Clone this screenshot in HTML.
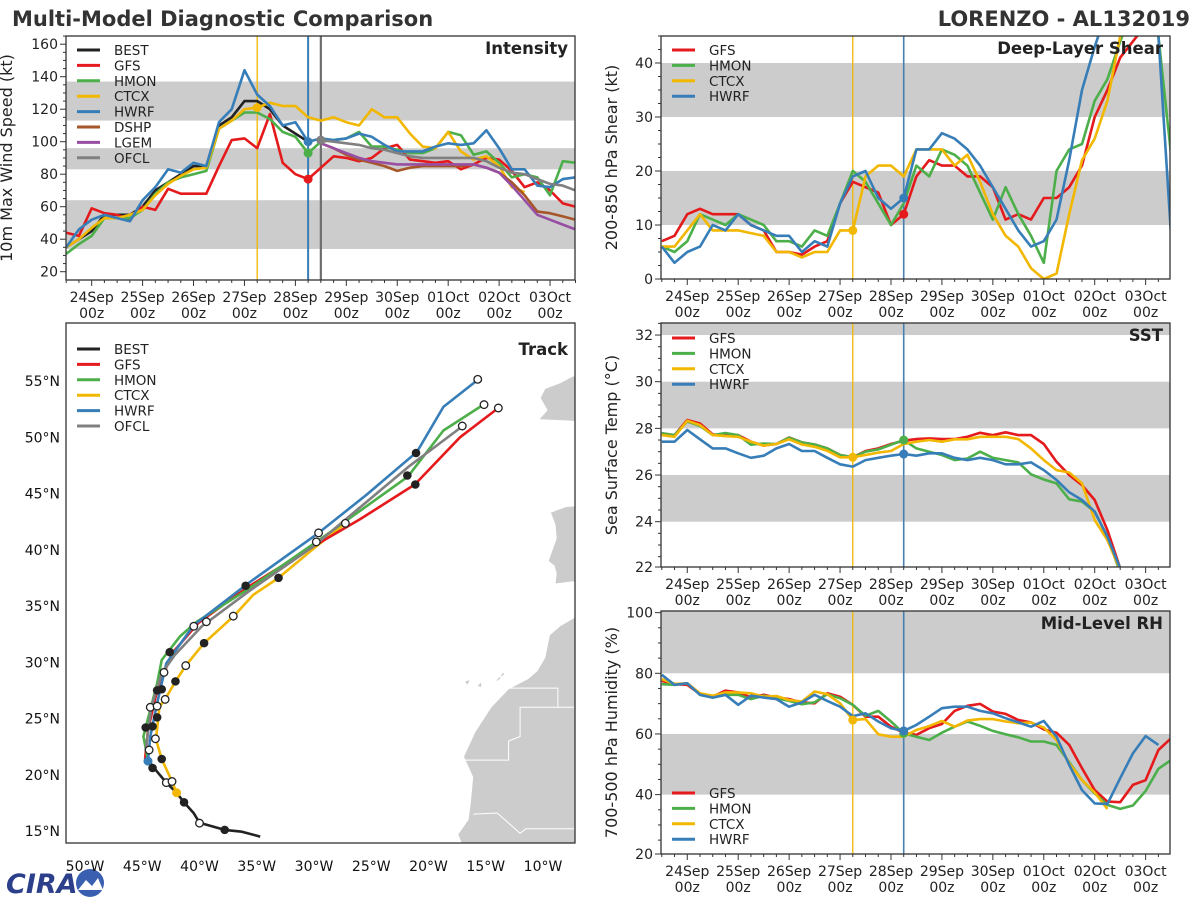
<!DOCTYPE html>
<html><head><meta charset="utf-8"><style>
html,body{margin:0;padding:0;background:#fff;}
svg{display:block;font-family:"DejaVu Sans","Liberation Sans",sans-serif;}
</style></head><body>
<svg id="chart" width="1200" height="900" viewBox="0 0 1200 900" xmlns="http://www.w3.org/2000/svg">
<text x="12" y="26" font-size="21" font-weight="bold" fill="#333">Multi-Model Diagnostic Comparison</text>
<text x="1190" y="26" font-size="21" font-weight="bold" fill="#333" text-anchor="end">LORENZO - AL132019</text>
<g>
<text x="6" y="893" font-size="27" font-weight="bold" font-style="italic" fill="#2b3f8a">CIRA</text>
<circle cx="90" cy="883" r="14" fill="#3a5fb0"/>
<path d="M78 890 L86 880 L92 886 L98 878 L103 890 Z" fill="#ffffff"/>
</g>
</svg>
<script>
// ---------- DATA ----------
const dayLabels = ["24Sep","25Sep","26Sep","27Sep","28Sep","29Sep","30Sep","01Oct","02Oct","03Oct"];
const hourLabel = "00z";
const startHour = -12;
const stepHours = 6;
const lineYellowHour = 78;
const lineBlueHour = 102;
const lineOfclHour = 108;

const intBEST = [35,40,45,55,55,55,60,70,75,80,85,85,110,115,125,125,120,110,105,100];
const intGFS = [44,42,59,56,55,52,60,58,71,68,68,68,85,101,102,96,117,87,80,77,84,91,90,88,90,96,98,89,88,87,88,83,86,90,89,82,72,75,70,62,60];
const intHMON = [31,37,42,53,53,53,58,68,75,78,80,82,108,113,118,118,114,106,103,93,100,101,102,106,97,97,95,93,93,96,106,104,92,94,87,78,80,78,67,88,87];
const intCTCX = [35,40,47,53,53,55,58,67,74,79,83,84,108,113,120,121,124,122,122,115,113,115,112,110,120,115,115,105,97,96,106,94,89,91,85,72,69];
const intHWRF = [35,46,52,55,53,51,64,72,83,81,87,85,112,120,144,129,122,110,112,100,102,101,102,105,103,98,94,94,94,97,99,98,99,107,96,83,83,73,72,77,78];
const guidanceStartIndex = 20;
const intDSHP = [99,96,92,89,87,85,82,84,85,85,85,85,86,84,81,75,67,57,56,54,52];
const intLGEM = [99,96,93,90,88,87,86,86,86,86,86,86,86,84,81,73,64,55,52,49,46];
const intOFCL = [101,100,99,98,96,95,93,91,90,90,90,90,90,88,84,81,80,77,74,73,70];

const shrGFS = [7,8,12,13,12,12,12,10,9,5,5,4.5,6,7,14,18,17,16,10,12,19,22,21,21,19,19,17,11,12,11,15,15,17,21,30,35,41,44,47,50,52];
const shrHMON = [6,5,7,12,11,10,12,11,10,7,7,6,9,8,14,20,18,14,10,14,21,19,24,23,21,16,11,17,12,8,3,20,24,25,33,37,44,50,50,45,23];
const shrCTCX = [6,6,9,12,9,9,9,8.5,8,5,5,4,5,5,9,9,19,21,21,19,24,24,24,21,23,18,12,8,6,2,0,1,12,22,26,33,45,50,50,50,50];
const shrHWRF = [6,3,5,6,10,9,12,10,9,8,8,5,7,6,14,19,20,15,13,15,24,24,27,26,24,21,17,13,9,6,7,11,22,35,43,50,50,50,50,45,8];

const sstGFS = [27.79,27.71,28.36,28.21,27.74,27.71,27.71,27.43,27.26,27.33,27.61,27.40,27.31,27.14,26.86,26.76,27.03,27.14,27.33,27.47,27.54,27.57,27.54,27.54,27.64,27.81,27.71,27.83,27.71,27.71,27.33,26.57,26.0,25.57,24.93,23.64,22.0,20.5];
const sstHMON = [27.79,27.71,28.3,28.1,27.71,27.8,27.71,27.3,27.35,27.33,27.6,27.4,27.31,27.14,26.86,26.76,27.0,27.1,27.3,27.5,27.14,27.0,26.86,26.64,26.71,27.0,26.74,26.64,26.54,26.03,25.81,25.64,24.96,24.86,24.43,23.36,21.8];
const sstCTCX = [27.71,27.64,28.33,28.14,27.71,27.67,27.64,27.43,27.26,27.33,27.53,27.31,27.21,27.04,26.76,26.76,26.86,26.96,27.03,27.33,27.43,27.5,27.43,27.53,27.53,27.64,27.64,27.64,27.54,27.14,26.64,26.21,26.11,25.64,24.07,23.21,21.93];
const sstHWRF = [27.43,27.43,27.93,27.53,27.14,27.14,26.93,26.74,26.83,27.14,27.33,27.03,27.03,26.74,26.46,26.36,26.64,26.74,26.83,26.90,26.83,26.93,26.93,26.74,26.64,26.74,26.64,26.46,26.46,26.54,26.21,25.79,25.26,24.93,24.43,23.36,22.0];

const rhGFS = [77.5,76.4,76.2,73.1,72.3,74.3,73.7,72.1,72.9,72,71.5,70.4,70.1,73.4,72.3,69.6,65.7,65.7,62.4,60.4,59.7,61.9,63.3,67.6,69.3,69.9,67.4,66.6,64.6,63.8,61.5,60.4,56.4,48.7,41.5,37.7,37.5,43.2,44.8,54.7,58.6];
const rhHMON = [76.4,76.2,76.7,72.9,72,72.9,72.9,71.5,72.6,71.8,70.9,69.8,70.4,73.1,71.8,69.6,66,67.6,64.1,60.2,59.1,58,60.4,62.4,64.1,62.7,61,59.9,58.9,57.5,57.5,56.4,50.7,44.8,40.4,36.6,35.3,36.4,41.2,48.5,51.4];
const rhCTCX = [78.1,76.5,76.7,73.4,72.6,73.7,73.7,73.4,72.3,72.5,71.2,70.7,74,73.1,70.1,64.6,64.9,59.9,59.1,59.1,61.3,62.6,64.3,62.4,64.4,64.9,64.9,64.1,63.5,63.8,62.1,58,50.3,44.8,40.7,35.3];
const rhHWRF = [79.5,76.2,76.7,72.9,72,72.9,69.6,72.6,72,71.5,69,70.4,72.9,70.9,69,65.9,66.8,64.1,61.9,61,63,65.7,68.5,69,69,67.6,66.8,65.2,63.8,62.4,64.3,59.1,49.8,41.5,37.1,36.9,45.4,53.6,59.3,56.4];

const trkBESTlon = [-34.7,-36.3,-37.8,-40.0,-40.5,-41.35,-42.0,-42.9,-43.7,-44.5];
const trkBESTlat = [14.5,14.94,15.1,15.74,16.57,17.55,18.4,19.3,20.27,21.3];
const trkHWRFlon = [-44.5,-44.3,-43.7,-42.9,-40.5,-35.9,-29.6,-25.4,-21.0,-18.7,-15.7];
const trkHWRFlat = [21.3,23.4,26.35,29.9,33.3,36.9,41.5,44.9,48.7,52.7,55.1];
const trkHMONlon = [-44.5,-44.9,-43.7,-43.3,-41.7,-40.25,-35.9,-29.8,-27.15,-21.8,-18.7,-15.2];
const trkHMONlat = [21.3,23.4,28.1,30.2,32.3,33.6,36.4,40.7,42.6,46.5,50.6,52.9];
const trkGFSlon = [-44.75,-44.5,-43.7,-42.4,-40.1,-35.9,-30.05,-26.0,-21.2,-17.25,-13.9];
const trkGFSlat = [21.4,24.0,27.5,30.8,33.5,36.6,40.3,42.7,45.8,50.0,52.6];
const trkOFCLlon = [-44.7,-44.2,-43.3,-42.15,-39.8,-35.7,-30.05,-21.6,-17.0];
const trkOFCLlat = [22.2,26.05,29.0,30.65,33.2,36.3,40.3,47.5,51.0];
const trkCTCXlon = [-42.0,-42.4,-43.3,-43.8,-43.5,-43.0,-42.1,-41.2,-39.6,-37.0,-35.3,-33.1,-29.8,-27.3];
const trkCTCXlat = [18.4,19.4,21.4,23.15,26.05,26.7,28.3,29.7,31.7,34.1,36.0,37.5,40.3,42.3];
const dotFilledLon = [-21.09,-21.85,-21.15,-33.1,-35.97,-39.6,-42.6,-42.1,-43.7,-43.3,-43.7,-44.7,-44.1,-43.3,-44.1,-41.35,-37.8];
const dotFilledLat = [48.6,46.6,45.8,37.5,36.8,31.7,30.9,28.3,27.5,27.6,25.1,24.2,24.3,21.4,20.6,17.55,15.1];
const dotOpenLon = [-15.7,-15.15,-13.9,-17.05,-27.26,-29.6,-29.8,-37.05,-40.5,-39.4,-41.2,-43.1,-43.0,-44.3,-43.7,-43.85,-44.4,-42.9,-42.4,-40.0];
const dotOpenLat = [55.15,52.9,52.6,51.0,42.35,41.5,40.7,34.1,33.2,33.6,29.7,29.1,26.7,26.0,26.1,23.2,22.2,19.3,19.4,15.7];
const lonTicks = [-50,-45,-40,-35,-30,-25,-20,-15,-10];
const latTicks = [15,20,25,30,35,40,45,50,55];

const C = {BEST:"#222222",GFS:"#e41a1c",HMON:"#4daf4a",CTCX:"#f2b701",HWRF:"#377eb8",DSHP:"#a65628",LGEM:"#984ea3",OFCL:"#808080"};
const NS = "http://www.w3.org/2000/svg";
const svg = document.getElementById('chart');
function mk(tag, parent){ const e=document.createElementNS(NS,tag); parent.appendChild(e); return e; }
function g(parent){ return mk('g',parent); }

function buildTimePanel(o){
  const P = g(svg);
  
  
  const X = h => o.x0 + (h+12)*50.93/24 ;
  const Y = v => o.yAt(v);
  const cid = o.name+'-clip';
  const cp = mk('clipPath', P); cp.setAttribute('id',cid);
  const cr = mk('rect', cp); cr.setAttribute('x',o.L); cr.setAttribute('y',o.T); cr.setAttribute('width',o.R-o.L); cr.setAttribute('height',o.B-o.T);
  const inner = g(P); inner.setAttribute('clip-path','url(#'+cid+')');
  o.bands.forEach(b=>{
    const r = mk('rect', inner);
    
    
    const y1=Y(b[1]), y2=Y(b[0]);
    r.setAttribute('x',o.L); r.setAttribute('y',y1); r.setAttribute('width',o.R-o.L); r.setAttribute('height',y2-y1); r.setAttribute('fill','#cccccc');
  });
  o.vlines.forEach(v=>{
    const l = mk('line', inner);
    
    
    l.setAttribute('x1',X(v[0])); l.setAttribute('x2',X(v[0])); l.setAttribute('y1',o.T); l.setAttribute('y2',o.B);
    l.setAttribute('stroke',v[1]); l.setAttribute('stroke-width',v[2]);
  });
  o.series.forEach(s=>{
    let d=''; let pen=false;
    s.vals.forEach((v,i)=>{
      if(v===null||v===undefined){pen=false;return;}
      const k=i+(s.off||0); const h=startHour+k*stepHours;
      d += (pen?'L':'M')+X(h).toFixed(1)+' '+Y(v).toFixed(1)+' '; pen=true;
    });
    const p = mk('path', inner);
    
    
    p.setAttribute('d',d); p.setAttribute('fill','none'); p.setAttribute('stroke',C[s.key]); p.setAttribute('stroke-width',2.6); p.setAttribute('stroke-linejoin','round');
  });
  (o.dots||[]).forEach(dt=>{
    const s = o.series.find(q=>q.key===dt[0]);
    const k = (dt[1]-startHour)/stepHours - (s.off||0);
    const c = mk('circle', inner);
    
    
    c.setAttribute('cx',X(dt[1])); c.setAttribute('cy',Y(s.vals[k])); c.setAttribute('r',4.5); c.setAttribute('fill',C[dt[0]]);
  });
  const fr = mk('rect', P);
  
  
  fr.setAttribute('x',o.L); fr.setAttribute('y',o.T); fr.setAttribute('width',o.R-o.L); fr.setAttribute('height',o.B-o.T); fr.setAttribute('fill','none'); fr.setAttribute('stroke','#333'); fr.setAttribute('stroke-width',1.3);
  // y ticks
  for(let v=o.yMinorStart; v<=o.yMax+1e-6; v+=o.yMinor){
    let y=Y(v); if(y<o.T-0.5||y>o.B+2.5) continue;
    if(y>o.B) y=o.B;
    const isMaj = Math.abs(((v-o.yMajorStart)/o.yMajor)-Math.round((v-o.yMajorStart)/o.yMajor))<1e-6;
    const t=mk('line',P); t.setAttribute('x1',o.L); t.setAttribute('x2',o.L-(isMaj?6:3)); t.setAttribute('y1',y); t.setAttribute('y2',y); t.setAttribute('stroke','#333'); t.setAttribute('stroke-width',1);
    if(isMaj){
      const tx=mk('text',P);
      
      
      tx.setAttribute('x',o.L-8); tx.setAttribute('y',y+5); tx.setAttribute('text-anchor','end'); tx.setAttribute('font-size',14); tx.setAttribute('fill','#222');
      tx.textContent = String(Math.round(v));
    }
  }
  // x ticks
  for(let h=-12; h<=230; h+=6){
    const x=X(h); if(x<o.L-0.5||x>o.R+0.5) continue;
    const maj = (h%24===0);
    const t=mk('line',P); t.setAttribute('x1',x); t.setAttribute('x2',x); t.setAttribute('y1',o.B); t.setAttribute('y2',o.B+(maj?6:3)); t.setAttribute('stroke','#333'); t.setAttribute('stroke-width',1);
    if(maj){
      const tx=mk('text',P);
      
      
      tx.setAttribute('x',x); tx.setAttribute('y',o.B+22); tx.setAttribute('text-anchor','middle'); tx.setAttribute('font-size',14); tx.setAttribute('fill','#222');
      tx.textContent = dayLabels[h/24];
      const t2=mk('text',P);
      
      
      t2.setAttribute('x',x); t2.setAttribute('y',o.B+38); t2.setAttribute('text-anchor','middle'); t2.setAttribute('font-size',14); t2.setAttribute('fill','#222');
      t2.textContent = hourLabel;
    }
  }
  const yl=mk('text',P);
  
  
  const cy=(o.T+o.B)/2; yl.setAttribute('x',0); yl.setAttribute('y',0); yl.setAttribute('transform','translate('+(o.L-o.ylOff)+','+cy+') rotate(-90)');
  yl.setAttribute('text-anchor','middle'); yl.setAttribute('font-size',16); yl.setAttribute('fill','#222'); yl.textContent=o.ylabel;
  const ti=mk('text',P);
  
  
  ti.setAttribute('x',o.R-7); ti.setAttribute('y',o.T+18); ti.setAttribute('text-anchor','end'); ti.setAttribute('font-size',16.5); ti.setAttribute('font-weight','bold'); ti.setAttribute('fill','#222'); ti.textContent=o.title;
  drawLegend(P, o.L+11, o.legendY, o.legendKeys);
}
function drawLegend(P, x, y0, keys){
  const Lg = g(P);
  
  
  keys.forEach((k,i)=>{
    const y=y0+i*15.4;
    const ln=mk('line',Lg);
    
    
    ln.setAttribute('x1',x); ln.setAttribute('x2',x+23); ln.setAttribute('y1',y); ln.setAttribute('y2',y); ln.setAttribute('stroke',C[k]); ln.setAttribute('stroke-width',3);
    const tx=mk('text',Lg);
    
    
    tx.setAttribute('x',x+37); tx.setAttribute('y',y+5); tx.setAttribute('font-size',13.5); tx.setAttribute('fill','#222'); tx.textContent=k;
  });
}

buildTimePanel({name:'intensity-panel', x0:66.2, L:66, R:575, T:36, B:280, ylOff:54,
  yAt:v=>76.7+(140-v)*1.625, yMinorStart:20, yMinor:5, yMajorStart:20, yMajor:20, yMax:165,
  bands:[[34,64],[83,96],[113,137]],
  vlines:[[lineYellowHour,C.CTCX,1.3],[lineBlueHour,C.HWRF,2],[lineOfclHour,'#6e6e6e',2.2]],
  series:[{key:'BEST',vals:intBEST},{key:'GFS',vals:intGFS},{key:'HMON',vals:intHMON},{key:'CTCX',vals:intCTCX},{key:'HWRF',vals:intHWRF},
          {key:'DSHP',vals:intDSHP,off:guidanceStartIndex},{key:'LGEM',vals:intLGEM,off:guidanceStartIndex},{key:'OFCL',vals:intOFCL,off:guidanceStartIndex}],
  dots:[['GFS',102],['HMON',102],['HWRF',102],['CTCX',78],['OFCL',108]],
  ylabel:'10m Max Wind Speed (kt)', title:'Intensity', legendY:50, legendKeys:['BEST','GFS','HMON','CTCX','HWRF','DSHP','LGEM','OFCL']});

buildTimePanel({name:'shear-panel', x0:661.8, L:661, R:1170, T:36, B:279, ylOff:44,
  yAt:v=>279-v*5.4, yMinorStart:0, yMinor:2.5, yMajorStart:0, yMajor:10, yMax:45,
  bands:[[10,20],[30,40]],
  vlines:[[lineYellowHour,C.CTCX,1.3],[lineBlueHour,'#4a7fb0',1.6]],
  series:[{key:'GFS',vals:shrGFS},{key:'HMON',vals:shrHMON},{key:'CTCX',vals:shrCTCX},{key:'HWRF',vals:shrHWRF}],
  dots:[['CTCX',78],['GFS',102],['HWRF',102]],
  ylabel:'200-850 hPa Shear (kt)', title:'Deep-Layer Shear', legendY:50, legendKeys:['GFS','HMON','CTCX','HWRF']});

buildTimePanel({name:'sst-panel', x0:661.8, L:661, R:1170, T:323, B:567, ylOff:44,
  yAt:v=>381.7+(30-v)*23.33, yMinorStart:22, yMinor:0.5, yMajorStart:22, yMajor:2, yMax:32.5,
  bands:[[24,26],[28,30],[32,34]],
  vlines:[[lineYellowHour,C.CTCX,1.3],[lineBlueHour,'#4a7fb0',1.6]],
  series:[{key:'GFS',vals:sstGFS},{key:'HMON',vals:sstHMON},{key:'CTCX',vals:sstCTCX},{key:'HWRF',vals:sstHWRF}],
  dots:[['CTCX',78],['HMON',102],['HWRF',102]],
  ylabel:'Sea Surface Temp (\u00B0C)', title:'SST', legendY:338, legendKeys:['GFS','HMON','CTCX','HWRF']});

buildTimePanel({name:'rh-panel', x0:661.8, L:661, R:1170, T:611, B:854, ylOff:44,
  yAt:v=>673.3+(80-v)*3.033, yMinorStart:20, yMinor:5, yMajorStart:20, yMajor:20, yMax:100.5,
  bands:[[40,60],[80,101]],
  vlines:[[lineYellowHour,C.CTCX,1.3],[lineBlueHour,'#4a7fb0',1.6]],
  series:[{key:'GFS',vals:rhGFS},{key:'HMON',vals:rhHMON},{key:'CTCX',vals:rhCTCX},{key:'HWRF',vals:rhHWRF}],
  dots:[['CTCX',78],['HMON',102],['HWRF',102]],
  ylabel:'700-500 hPa Humidity (%)', title:'Mid-Level RH', legendY:793, legendKeys:['GFS','HMON','CTCX','HWRF']});

// ---------- TRACK MAP ----------
(function(){
  const L=66,R=575,T=323,B=843;
  const LX = lon => 85 + (lon+50)*11.45;
  const LY = lat => 831 - (lat-15)*11.25;
  const P = g(svg);
  
  
  const cp=mk('clipPath',P); cp.setAttribute('id','trk-clip');
  const cr=mk('rect',cp); cr.setAttribute('x',L); cr.setAttribute('y',T); cr.setAttribute('width',R-L); cr.setAttribute('height',B-T);
  const inner=g(P); inner.setAttribute('clip-path','url(#trk-clip)');
  const lands = [
    [[-10.3,51.6],[-9.6,52.4],[-10.2,53.5],[-9.8,54.3],[-8.5,54.8],[-7.4,55.4],[-5,55.4],[-5,51.3],[-8,51.5]],
    [[-9.3,43.3],[-8.9,42.2],[-8.8,41],[-9.5,39],[-9.0,38.6],[-8.8,37.9],[-8.9,37.0],[-7.4,37.2],[-6.5,36.9],[-5,36.5],[-5,44],[-8,43.8]],
    [[-5,35.9],[-6.2,35.7],[-6.8,34.2],[-8.5,33.2],[-9.4,32.4],[-9.8,30.4],[-10.5,29.2],[-11.3,28.5],[-13,27.6],[-14.5,26.0],[-15.9,23.8],[-16.9,21.6],[-16.1,19.8],[-16.3,17.6],[-16.5,16.0],[-17.4,14.7],[-16.8,13.2],[-5,13]],
    [[-13.5,29.1],[-13.4,28.9],[-13.9,28.6],[-14.1,28.3],[-13.8,28.5]],
    [[-15.4,28.2],[-15.7,27.9],[-15.4,27.8]],
    [[-16.4,28.4],[-16.8,28.3],[-16.6,28.0]]
  ];
  lands.forEach(poly=>{
    const p=mk('polygon',inner);
    
    
    p.setAttribute('points',poly.map(q=>LX(q[0]).toFixed(1)+','+LY(q[1]).toFixed(1)).join(' ')); p.setAttribute('fill','#cccccc');
  });
  const borders=[[[-13.2,27.7],[-8.7,27.7],[-8.7,26.0],[-5,26.0]],[[-17.1,21.3],[-13,21.3],[-13,23],[-12,23.4],[-12,26],[-8.7,26]],[[-16.1,16.5],[-14,16.6],[-12,14.8],[-11.5,15.2],[-5,15.2]]];
  borders.forEach(b=>{
    const pl=mk('polyline',inner);
    
    
    pl.setAttribute('points',b.map(q=>LX(q[0]).toFixed(1)+','+LY(q[1]).toFixed(1)).join(' ')); pl.setAttribute('fill','none'); pl.setAttribute('stroke','#ffffff'); pl.setAttribute('stroke-width',1);
  });
  const tracks=[['BEST',trkBESTlon,trkBESTlat],['CTCX',trkCTCXlon,trkCTCXlat],['GFS',trkGFSlon,trkGFSlat],['HMON',trkHMONlon,trkHMONlat],['HWRF',trkHWRFlon,trkHWRFlat],['OFCL',trkOFCLlon,trkOFCLlat]];
  tracks.forEach(t=>{
    const pl=mk('polyline',inner);
    
    
    pl.setAttribute('points',t[1].map((lo,i)=>LX(lo).toFixed(1)+','+LY(t[2][i]).toFixed(1)).join(' '));
    pl.setAttribute('fill','none'); pl.setAttribute('stroke',C[t[0]]); pl.setAttribute('stroke-width',2.6); pl.setAttribute('stroke-linejoin','round');
  });
  const yd=mk('circle',inner);
  
  
  yd.setAttribute('cx',LX(trkCTCXlon[0])); yd.setAttribute('cy',LY(trkCTCXlat[0])); yd.setAttribute('r',4.5); yd.setAttribute('fill',C.CTCX);
  const bd=mk('circle',inner);
  
  
  bd.setAttribute('cx',LX(trkHWRFlon[0])); bd.setAttribute('cy',LY(trkHWRFlat[0])+1); bd.setAttribute('r',4.5); bd.setAttribute('fill',C.HWRF);
  dotFilledLon.forEach((lo,i)=>{
    const c=mk('circle',inner);
    
    
    c.setAttribute('cx',LX(lo)); c.setAttribute('cy',LY(dotFilledLat[i])); c.setAttribute('r',4.3); c.setAttribute('fill','#222');
  });
  dotOpenLon.forEach((lo,i)=>{
    const c=mk('circle',inner);
    
    
    c.setAttribute('cx',LX(lo)); c.setAttribute('cy',LY(dotOpenLat[i])); c.setAttribute('r',3.8); c.setAttribute('fill','#fff'); c.setAttribute('stroke','#222'); c.setAttribute('stroke-width',1.3);
  });
  const fr=mk('rect',P);
  
  
  fr.setAttribute('x',L); fr.setAttribute('y',T); fr.setAttribute('width',R-L); fr.setAttribute('height',B-T); fr.setAttribute('fill','none'); fr.setAttribute('stroke','#333'); fr.setAttribute('stroke-width',1.3);
  lonTicks.forEach(lo=>{
    const tx=mk('text',P);
    
    
    tx.setAttribute('x',LX(lo)); tx.setAttribute('y',871); tx.setAttribute('text-anchor','middle'); tx.setAttribute('font-size',14); tx.setAttribute('fill','#111');
    tx.textContent=Math.abs(lo)+'\u00B0W';
  });
  latTicks.forEach(la=>{
    const tx=mk('text',P);
    
    
    tx.setAttribute('x',60); tx.setAttribute('y',LY(la)+5); tx.setAttribute('text-anchor','end'); tx.setAttribute('font-size',14); tx.setAttribute('fill','#111');
    tx.textContent=la+'\u00B0N';
  });
  const ti=mk('text',P);
  
  
  ti.setAttribute('x',R-7); ti.setAttribute('y',T+32); ti.setAttribute('text-anchor','end'); ti.setAttribute('font-size',16.5); ti.setAttribute('font-weight','bold'); ti.setAttribute('fill','#222'); ti.textContent='Track';
  drawLegend(P, 77, 349, ['BEST','GFS','HMON','CTCX','HWRF','OFCL']);
})();
</script>
</body></html>
